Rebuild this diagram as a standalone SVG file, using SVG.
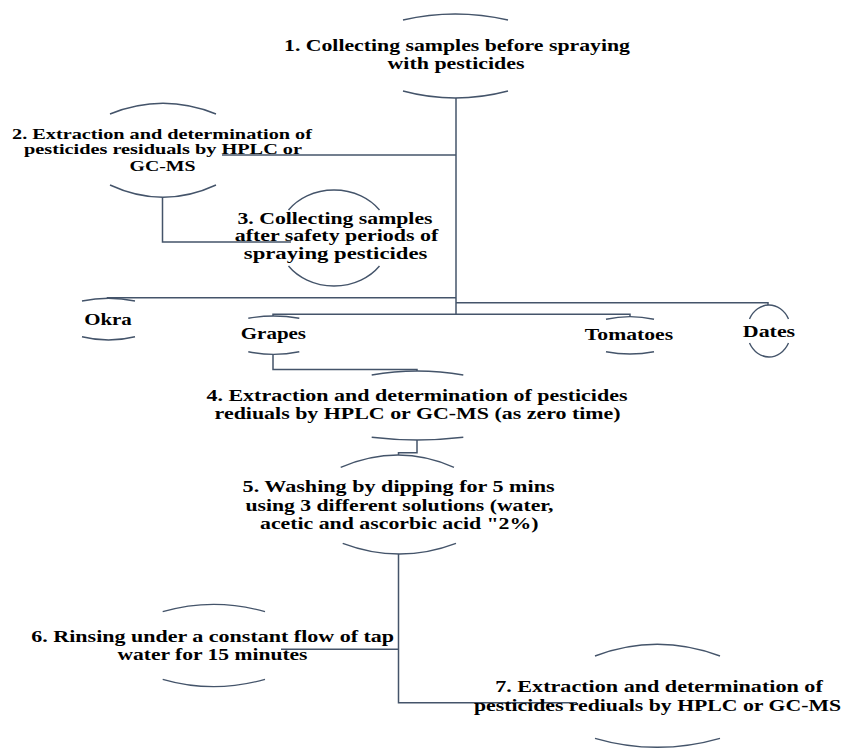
<svg xmlns="http://www.w3.org/2000/svg" width="842" height="748" viewBox="0 0 842 748">
<style>
  .arc { fill: none; stroke: #44546A; stroke-width: 1.4; }
  .conn { fill: none; stroke: #44546A; stroke-width: 1.5; }
  .t { font-family: 'Liberation Serif', 'Times New Roman', Times, serif; font-weight: 700; font-size: 17px; fill: #000; text-anchor: middle; }
  .s { font-size: 15.5px; }
</style>
<rect width="842" height="748" fill="#fff"/>
<g id="connectors">
  <path class="conn" d="M456,98 V314.3"/>
  <path class="conn" d="M222,155 H456"/>
  <path class="conn" d="M162.5,197 V242 H291"/>
  <path class="conn" d="M456,297.7 H107.5 V298.5"/>
  <path class="conn" d="M456,302.7 H768 V305"/>
  <path class="conn" d="M273,316 V314.3 H630 V316.5"/>
  <path class="conn" d="M273,354.3 V369.5 H417 V371"/>
  <path class="conn" d="M417,440 V452.7 H398.5 V455"/>
  <path class="conn" d="M398.5,554 V702.7 H577"/>
  <path class="conn" d="M281,649.3 H398.5"/>
</g>
<g id="node1" font-family="Liberation Serif, serif">
  <path class="arc" d="M403,20 Q455,8 508,20"/>
  <path class="arc" d="M403,91 Q455,105 508,91"/>
  <text class="t" x="457" y="50.7" textLength="346" lengthAdjust="spacingAndGlyphs">1. Collecting  samples before spraying</text>
  <text class="t" x="456" y="69.3" textLength="137" lengthAdjust="spacingAndGlyphs">with  pesticides</text>
</g>
<g id="node2">
  <path class="arc" d="M110,114 Q163,92.6 216,114"/>
  <path class="arc" d="M110,185 Q163,209.6 216,185"/>
  <text class="t s" x="162" y="138.5" textLength="300" lengthAdjust="spacingAndGlyphs">2. Extraction and determination of</text>
  <text class="t s" x="163" y="154" textLength="278" lengthAdjust="spacingAndGlyphs">pesticides residuals by HPLC or</text>
  <text class="t s" x="162.5" y="170.5" textLength="66" lengthAdjust="spacingAndGlyphs">GC-MS</text>
</g>
<g id="node3">
  <path class="arc" d="M288.5,210 A56,48 0 0 1 379.5,210"/>
  <path class="arc" d="M288.5,266 A56,48 0 0 0 379.5,266"/>
  <text class="t" x="335" y="223.5" textLength="195" lengthAdjust="spacingAndGlyphs">3. Collecting  samples</text>
  <text class="t" x="336.5" y="241" textLength="203.5" lengthAdjust="spacingAndGlyphs">after safety periods of</text>
  <text class="t" x="335.6" y="258.5" textLength="183.5" lengthAdjust="spacingAndGlyphs">spraying   pesticides</text>
</g>
<g id="okra">
  <path class="arc" d="M82,301 Q108.5,295.6 135,301"/>
  <path class="arc" d="M82,336.7 Q108.5,343.3 135,336.7"/>
  <text class="t" x="108" y="325" textLength="47.7" lengthAdjust="spacingAndGlyphs">Okra</text>
</g>
<g id="grapes">
  <path class="arc" d="M248.3,318.3 Q273.5,313.7 299.3,318.3"/>
  <path class="arc" d="M248.3,351.7 Q273.5,357 299.3,351.7"/>
  <text class="t" x="273.4" y="339" textLength="65.3" lengthAdjust="spacingAndGlyphs">Grapes</text>
</g>
<g id="tomatoes">
  <path class="arc" d="M606,319.3 Q630,314 654,319.3"/>
  <path class="arc" d="M606,351.7 Q630,356.3 654,351.7"/>
  <text class="t" x="629" y="340" textLength="88.3" lengthAdjust="spacingAndGlyphs">Tomatoes</text>
</g>
<g id="dates">
  <path class="arc" d="M749.5,319 A22,26 0 0 1 788.5,319"/>
  <path class="arc" d="M749.5,343 A22,26 0 0 0 788.5,343"/>
  <text class="t" x="769" y="336.7" textLength="52.3" lengthAdjust="spacingAndGlyphs">Dates</text>
</g>
<g id="node4">
  <path class="arc" d="M371.7,375 Q417,367 463.3,375"/>
  <path class="arc" d="M371.7,437.3 Q417,442.7 463.3,437.3"/>
  <text class="t" x="417" y="400.7" textLength="421" lengthAdjust="spacingAndGlyphs">4. Extraction  and determination  of pesticides</text>
  <text class="t" x="417.6" y="419.3" textLength="406" lengthAdjust="spacingAndGlyphs">rediuals by HPLC  or GC-MS (as zero time)</text>
</g>
<g id="node5">
  <path class="arc" d="M340.7,467.3 Q398.5,442.7 454,467.3"/>
  <path class="arc" d="M342.7,543.3 Q399.4,564.7 456,543.3"/>
  <text class="t" x="398.6" y="491.7" textLength="312" lengthAdjust="spacingAndGlyphs">5. Washing  by dipping  for 5 mins</text>
  <text class="t" x="399.4" y="510.5" textLength="308" lengthAdjust="spacingAndGlyphs">using 3 different  solutions (water,</text>
  <text class="t" x="399.3" y="529.3" textLength="278.6" lengthAdjust="spacingAndGlyphs">acetic and ascorbic acid "2%)</text>
</g>
<g id="node6">
  <path class="arc" d="M162.7,611.7 Q213.5,597 265,611.7"/>
  <path class="arc" d="M162.7,679.3 Q213.5,694 265,679.3"/>
  <text class="t" x="212.7" y="641.7" textLength="362.7" lengthAdjust="spacingAndGlyphs">6. Rinsing under  a constant  flow  of tap</text>
  <text class="t" x="212.5" y="660" textLength="190" lengthAdjust="spacingAndGlyphs">water for 15 minutes</text>
</g>
<g id="node7">
  <path class="arc" d="M595,656 Q657,632.6 720,656"/>
  <path class="arc" d="M595,738.3 Q657,756.3 720,738.3"/>
  <text class="t" x="659" y="691.7" textLength="327.6" lengthAdjust="spacingAndGlyphs">7. Extraction  and determination  of</text>
  <text class="t" x="657.5" y="710.5" textLength="367" lengthAdjust="spacingAndGlyphs">pesticides rediuals by HPLC  or GC-MS</text>
</g>
</svg>
